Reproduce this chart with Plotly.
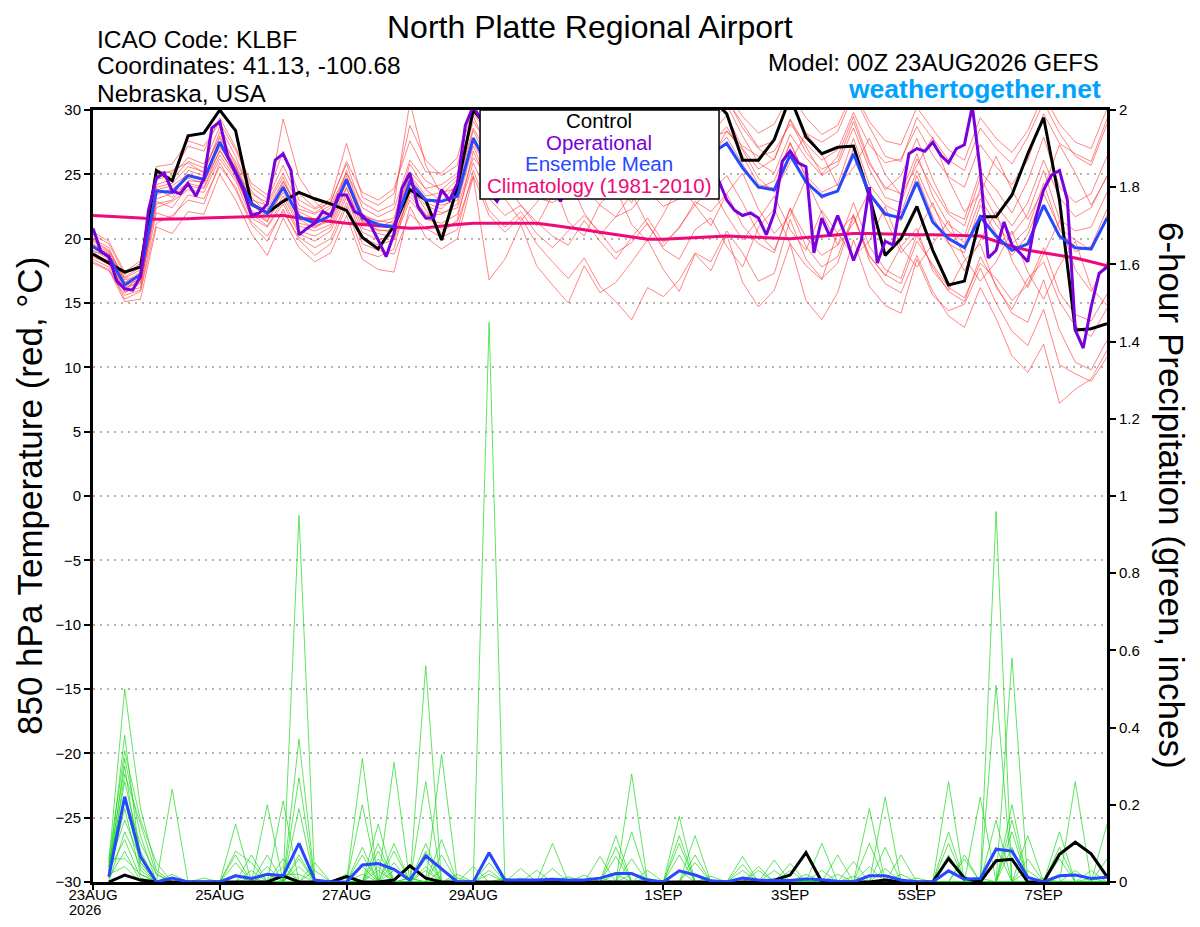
import pandas as pd
import plotly.graph_objects as go

# GEFS run 00Z 23AUG2026, 6-hourly steps out to 384 h (operational is 3-hourly)
run_start = "2026-08-23 00:00"
n_steps = 65

tick_dates = ["2026-08-23", "2026-08-25", "2026-08-27", "2026-08-29",
              "2026-09-01", "2026-09-03", "2026-09-05", "2026-09-07"]
tick_labels = ["23AUG", "25AUG", "27AUG", "29AUG", "1SEP", "3SEP", "5SEP", "7SEP"]
run_year = "2026"

temp_ticks = [30, 25, 20, 15, 10, 5, 0, -5, -10, -15, -20, -25, -30]
precip_ticks = [0, 0.2, 0.4, 0.6, 0.8, 1, 1.2, 1.4, 1.6, 1.8, 2]
precip_labels = ["0", "0.2", "0.4", "0.6", "0.8", "1", "1.2", "1.4", "1.6", "1.8", "2"]

# 850 hPa temperature (C)
control_t = [18.8, 18.1, 17.4, 17.8, 25.3, 24.5, 28.0, 28.2, 30.0, 28.4, 22.7, 22.0, 22.9,
             23.6, 23.1, 22.7, 22.2, 20.1, 19.2, 21.0, 23.8, 23.0, 19.9, 24.0, 30.0, 28.5,
             27.0, 28.2, 26.5, 27.4, 26.0, 25.2, 26.3, 27.8, 28.9, 27.5, 28.8, 30.5, 31.5,
             31.0, 29.7, 26.1, 26.1, 27.7, 31.0, 27.9, 26.6, 27.1, 27.2, 23.3, 18.7, 20.0,
             22.5, 19.1, 16.4, 16.7, 21.7, 21.7, 23.4, 26.6, 29.4, 23.0, 12.9, 13.0, 13.4]

mean_t = [19.4, 18.6, 16.4, 17.2, 23.7, 23.6, 24.9, 24.6, 27.5, 25.2, 22.7, 22.0, 24.0,
          21.7, 21.2, 21.8, 24.6, 21.6, 21.1, 20.9, 24.4, 23.0, 22.9, 23.3, 27.8, 25.5,
          24.8, 25.6, 24.9, 24.2, 24.6, 25.1, 24.4, 24.0, 24.3, 25.0, 24.7, 25.3, 26.0,
          26.6, 27.4, 25.5, 24.0, 23.8, 26.5, 24.4, 23.3, 23.7, 26.6, 23.5, 21.9, 21.6,
          24.4, 21.3, 20.0, 19.3, 21.7, 20.2, 19.1, 19.6, 22.6, 20.2, 19.3, 19.2, 21.6]

clim_t = [21.8, 21.75, 21.7, 21.6, 21.5, 21.5, 21.55, 21.6, 21.65, 21.7, 21.75, 21.8, 21.8,
          21.6, 21.45, 21.3, 21.2, 21.1, 21.0, 20.9, 20.8, 20.85, 21.0, 21.1, 21.2, 21.2,
          21.2, 21.2, 21.2, 21.05, 20.9, 20.7, 20.5, 20.3, 20.1, 19.95, 19.95, 20.0, 20.1,
          20.15, 20.2, 20.15, 20.1, 20.05, 20.0, 20.1, 20.2, 20.3, 20.4, 20.4, 20.35, 20.3,
          20.3, 20.3, 20.25, 20.2, 20.2, 19.8, 19.4, 19.1, 18.9, 18.7, 18.5, 18.2, 17.9]

oper_t = [20.8, 19.0, 18.6, 16.7, 16.1, 16.0, 17.05, 22.2, 24.7, 25.1, 23.7, 23.5, 24.3,
          23.3, 24.7, 28.6, 29.1, 26.4, 25.1, 23.8, 21.8, 22.0, 22.7, 26.1, 26.6, 25.3,
          20.3, 20.8, 21.2, 22.1, 21.8, 23.4, 23.4, 22.1, 21.8, 21.1, 19.9, 18.6, 20.4,
          23.9, 25.1, 22.5, 21.6, 21.6, 23.8, 23.0, 24.3, 28.8, 30.3, 29.2, 23.6, 22.9,
          24.0, 25.2, 26.0, 25.4, 24.8, 25.9, 24.2, 22.9, 24.1, 25.5, 26.3, 25.8, 27.0,
          26.2, 25.1, 25.7, 26.8, 27.5, 26.9, 25.8, 26.4, 27.3, 26.0, 25.2, 26.1, 27.0,
          26.2, 24.5, 23.0, 22.2, 21.8, 22.0, 21.6, 20.3, 22.0, 26.0, 26.8, 25.9, 25.6,
          18.9, 21.6, 20.2, 21.8, 20.2, 18.3, 19.9, 24.0, 18.1, 19.8, 19.5, 23.0, 26.6,
          27.0, 26.8, 27.5, 26.5, 25.9, 27.0, 27.3, 30.3, 25.3, 18.5, 19.1, 21.3, 19.5,
          18.9, 18.2, 21.6, 23.8, 24.95, 25.3, 23.0, 12.9, 11.5, 14.7, 17.3, 17.8]

members_t = [
    [19.8, 19.0, 16.9, 17.6, 24.6, 24.9, 26.3, 25.8, 28.7, 26.4, 23.5, 22.8, 25.1,
     22.6, 22.0, 22.9, 25.8, 22.4, 21.7, 22.3, 26.1, 24.5, 23.8, 24.9, 29.1, 27.2,
     26.0, 27.3, 26.1, 25.2, 26.4, 27.5, 25.8, 25.0, 26.7, 27.9, 26.1, 27.4, 28.6,
     28.1, 29.6, 27.0, 25.4, 26.2, 29.3, 27.1, 25.0, 26.4, 29.5, 26.0, 23.8, 24.9,
     27.8, 24.6, 22.1, 21.5, 25.2, 23.8, 22.0, 24.5, 27.9, 24.0, 22.8, 23.5, 26.4],
    [18.9, 18.2, 15.8, 16.5, 22.4, 22.9, 23.8, 23.6, 26.2, 24.5, 21.6, 20.9, 22.7,
     20.4, 19.8, 20.6, 23.2, 20.1, 19.5, 19.9, 23.0, 21.5, 21.2, 21.9, 25.9, 23.1,
     21.8, 22.6, 21.3, 20.2, 19.5, 21.4, 19.8, 18.4, 20.1, 21.6, 19.7, 20.8, 22.9,
     22.1, 23.5, 21.0, 19.6, 18.9, 22.4, 20.1, 18.7, 19.5, 22.8, 19.4, 17.6, 16.9,
     20.3, 17.8, 15.9, 15.1, 18.6, 16.4, 14.2, 13.5, 16.8, 12.9, 10.4, 9.8, 12.1],
    [20.3, 19.6, 17.2, 18.1, 25.3, 25.1, 27.2, 26.8, 29.4, 27.1, 24.3, 23.4, 26.8,
     23.5, 22.4, 23.1, 27.4, 23.2, 22.6, 23.5, 28.8, 26.1, 24.9, 25.7, 30.4, 28.3,
     27.1, 28.9, 27.4, 26.0, 27.2, 29.3, 28.1, 26.5, 27.0, 29.6, 28.4, 27.2, 29.9,
     29.5, 30.8, 28.9, 27.1, 27.6, 30.9, 28.2, 27.5, 28.3, 31.2, 28.7, 26.4, 26.0,
     29.4, 27.8, 26.1, 25.3, 28.6, 27.0, 25.8, 27.9, 30.6, 28.2, 26.4, 25.7, 28.9],
    [18.4, 17.8, 15.3, 15.9, 21.2, 21.8, 23.0, 22.7, 25.9, 23.8, 21.1, 19.8, 22.3,
     19.9, 18.7, 19.6, 22.5, 19.0, 18.6, 19.2, 24.1, 22.3, 20.4, 21.5, 26.8, 24.0,
     23.1, 21.4, 22.8, 24.6, 21.3, 20.2, 22.7, 23.9, 21.1, 19.8, 21.9, 24.2, 22.6,
     21.0, 23.5, 25.1, 22.3, 20.4, 21.8, 24.6, 22.0, 19.5, 21.2, 23.7, 21.6, 18.9,
     20.4, 22.8, 19.7, 17.5, 19.9, 22.1, 18.3, 16.2, 18.8, 21.4, 17.6, 15.9, 18.2],
    [19.1, 18.4, 16.1, 17.0, 23.9, 23.2, 25.3, 24.9, 27.1, 25.6, 22.9, 21.8, 23.6,
     21.2, 20.9, 21.4, 24.0, 20.8, 20.4, 20.1, 23.6, 21.9, 20.7, 21.3, 24.9, 21.8,
     20.5, 21.7, 19.6, 18.2, 16.9, 18.5, 16.3, 15.1, 13.7, 16.2, 15.5, 16.8, 18.9,
     18.2, 20.6, 18.9, 16.7, 17.3, 21.5, 18.4, 16.9, 18.1, 21.7, 18.6, 17.2, 16.5,
     19.8, 18.0, 16.2, 15.4, 18.1, 16.9, 15.2, 16.4, 19.3, 15.8, 14.1, 13.6, 15.7],
    [20.0, 19.3, 16.6, 17.4, 24.2, 24.6, 26.0, 25.5, 27.8, 26.0, 23.7, 22.5, 29.3,
     24.8, 22.9, 21.7, 25.3, 21.9, 21.3, 21.6, 25.8, 23.8, 22.9, 24.3, 28.6, 26.4,
     25.3, 26.7, 25.6, 24.3, 25.7, 26.2, 24.8, 23.6, 25.1, 26.6, 25.4, 26.9, 28.0,
     27.4, 28.7, 26.5, 24.2, 23.9, 27.5, 24.7, 23.1, 23.8, 27.0, 23.6, 22.1, 21.4,
     24.9, 21.7, 19.6, 18.9, 22.6, 20.4, 18.7, 20.3, 23.5, 20.8, 19.9, 19.1, 21.8],
    [18.6, 18.0, 16.0, 16.8, 22.9, 22.4, 24.1, 23.9, 26.5, 24.7, 22.2, 21.4, 23.3,
     21.0, 20.6, 21.1, 23.9, 21.2, 20.7, 20.5, 23.9, 22.6, 22.0, 22.4, 26.3, 24.7,
     23.6, 24.5, 23.2, 22.8, 23.5, 24.0, 22.6, 21.7, 22.3, 23.8, 22.5, 23.1, 24.4,
     23.6, 24.9, 22.8, 20.4, 19.1, 22.3, 19.4, 17.8, 18.6, 21.9, 18.3, 16.5, 15.8,
     18.7, 15.9, 14.0, 13.1, 16.2, 13.8, 10.9, 9.6, 11.8, 7.2, 8.3, 9.1, 11.3],
    [19.6, 18.9, 16.5, 17.3, 23.4, 23.9, 24.7, 24.3, 27.3, 25.1, 22.5, 22.3, 24.5,
     22.1, 21.5, 22.4, 24.9, 21.7, 21.4, 21.2, 25.0, 23.3, 23.6, 23.9, 28.4, 25.9,
     25.6, 26.4, 25.8, 25.0, 25.3, 25.9, 25.2, 24.9, 25.4, 26.1, 25.8, 26.3, 27.4,
     27.9, 28.3, 27.2, 26.4, 26.8, 28.9, 27.4, 26.1, 26.9, 29.8, 27.3, 25.9, 26.2,
     28.7, 26.5, 24.8, 24.0, 27.3, 25.6, 24.2, 26.1, 29.7, 27.4, 26.6, 26.0, 29.3],
    [18.2, 17.6, 15.1, 15.3, 20.9, 20.4, 22.1, 21.9, 25.0, 23.0, 20.4, 18.7, 21.6,
     19.3, 18.2, 18.9, 21.8, 18.4, 17.6, 17.4, 22.5, 20.1, 19.2, 20.0, 24.8, 16.8,
     18.4, 21.1, 17.9, 16.4, 15.0, 17.9, 15.8, 16.6, 18.2, 19.9, 17.6, 15.9, 18.8,
     17.5, 20.3, 16.6, 14.7, 16.0, 19.6, 15.2, 13.7, 15.8, 19.9, 16.3, 14.8, 14.2,
     18.4, 15.6, 14.4, 14.9, 17.7, 15.0, 12.8, 11.7, 14.5, 10.2, 9.5, 8.9, 10.8],
    [19.9, 19.1, 17.0, 17.8, 24.9, 25.3, 25.9, 25.1, 28.3, 25.8, 23.2, 22.0, 24.4,
     22.3, 21.9, 22.6, 25.1, 22.8, 22.1, 22.7, 30.6, 25.7, 23.4, 24.6, 29.5, 26.8,
     25.9, 27.8, 26.3, 24.7, 25.9, 27.1, 26.0, 25.5, 26.3, 27.4, 26.8, 28.1, 29.3,
     29.0, 30.4, 28.0, 25.9, 25.1, 28.1, 26.3, 24.9, 25.7, 28.6, 25.4, 23.2, 22.8,
     26.2, 23.9, 21.9, 21.0, 24.7, 22.6, 21.0, 22.8, 26.1, 23.2, 21.7, 22.4, 24.9],
    [18.7, 18.3, 15.9, 16.2, 23.1, 23.5, 24.3, 24.0, 26.9, 24.9, 21.9, 21.0, 23.0,
     20.6, 20.2, 20.9, 23.5, 20.5, 19.9, 20.3, 23.3, 21.8, 21.9, 22.7, 27.2, 24.3,
     24.2, 22.6, 21.0, 23.4, 24.8, 22.0, 20.3, 21.7, 23.5, 21.1, 19.4, 20.9, 22.6,
     24.0, 21.8, 19.9, 21.5, 23.3, 20.7, 19.1, 22.2, 20.4, 18.6, 19.8, 22.5, 19.3,
     17.8, 19.6, 21.4, 18.5, 16.7, 18.2, 20.6, 17.4, 15.3, 17.9, 19.8, 16.2, 14.8],
    [19.3, 18.5, 16.3, 16.9, 24.0, 24.3, 25.6, 25.2, 28.0, 25.5, 23.0, 22.6, 24.8,
     21.9, 21.0, 21.5, 24.4, 21.3, 20.9, 21.4, 25.2, 23.9, 24.2, 25.1, 29.7, 28.1,
     27.3, 28.6, 27.9, 26.8, 27.5, 28.4, 27.7, 27.1, 27.9, 28.8, 28.2, 29.0, 30.4,
     30.1, 30.9, 28.6, 27.0, 26.1, 29.2, 26.7, 25.4, 26.0, 29.1, 25.8, 24.0, 23.5,
     26.6, 23.3, 21.1, 20.2, 23.9, 21.6, 20.3, 21.9, 25.3, 21.5, 20.6, 20.9, 23.6],
    [18.1, 17.5, 15.6, 16.0, 22.0, 21.6, 23.4, 23.1, 25.6, 24.0, 21.3, 20.2, 22.1,
     20.1, 19.3, 20.0, 22.8, 19.6, 19.1, 18.8, 21.9, 20.8, 20.1, 20.7, 25.3, 22.2,
     20.9, 22.1, 20.4, 19.3, 20.6, 21.8, 20.5, 18.9, 19.7, 21.2, 19.2, 18.4, 20.7,
     21.6, 19.4, 17.8, 20.9, 22.3, 19.6, 17.9, 16.8, 20.5, 21.8, 18.7, 17.1, 19.4,
     20.8, 17.5, 16.0, 18.3, 19.6, 16.2, 14.5, 16.9, 18.2, 15.1, 13.2, 12.4, 14.6],
    [20.5, 19.8, 17.4, 18.3, 25.6, 25.8, 27.6, 27.2, 29.0, 26.9, 24.0, 23.1, 25.7,
     23.0, 22.3, 22.8, 26.0, 23.6, 23.0, 23.9, 27.6, 25.2, 25.1, 26.3, 30.8, 29.0,
     28.2, 29.4, 28.6, 27.5, 28.3, 29.8, 28.9, 28.0, 28.7, 30.1, 29.2, 29.9, 31.0,
     30.6, 31.4, 29.5, 28.2, 28.9, 31.3, 29.4, 28.1, 28.8, 31.5, 29.1, 27.6, 27.3,
     30.2, 28.5, 26.9, 26.1, 29.4, 27.8, 26.7, 28.4, 31.2, 28.9, 27.5, 27.0, 30.1],
    [19.0, 18.7, 16.2, 16.6, 22.7, 23.0, 24.5, 24.4, 26.8, 25.0, 22.1, 21.3, 23.9,
     21.5, 20.8, 21.8, 24.3, 21.4, 20.6, 20.7, 24.6, 22.8, 22.3, 23.6, 27.9, 25.2,
     25.7, 26.9, 24.6, 23.0, 25.2, 27.4, 26.1, 24.0, 22.8, 25.6, 27.2, 25.3, 23.9,
     26.2, 28.4, 26.9, 24.7, 23.6, 25.9, 28.2, 26.6, 24.1, 25.5, 27.8, 25.0, 23.4,
     25.7, 27.9, 24.6, 22.1, 23.5, 26.4, 23.8, 21.5, 23.9, 27.3, 25.1, 22.6, 24.8],
    [19.5, 18.8, 16.8, 17.1, 23.8, 24.1, 25.0, 24.7, 27.6, 25.3, 22.6, 21.7, 24.2,
     21.8, 21.3, 22.1, 24.7, 21.9, 21.0, 21.1, 24.8, 23.1, 22.6, 23.0, 27.5, 25.0,
     24.4, 26.0, 24.9, 23.7, 24.8, 25.6, 24.1, 23.3, 24.6, 25.8, 24.9, 25.5, 27.0,
     26.5, 27.9, 25.8, 23.9, 24.5, 27.4, 24.9, 23.6, 24.2, 27.8, 24.2, 22.6, 22.0,
     25.3, 22.5, 20.6, 19.7, 23.1, 21.1, 19.6, 20.8, 24.3, 20.7, 19.0, 19.4, 22.3],
]

# 6-hour precipitation (inches), steps 1..64
control_p = [0, .018, .005, 0, 0, 0, 0, 0,
             0, 0, 0, .016, 0, 0, 0, .014,
             0, 0, .005, .042, .01, 0, 0, 0,
             0, 0, 0, 0, 0, .002, 0, 0,
             0, 0, 0, 0, 0, 0, 0, 0,
             0, 0, .005, .018, .076, 0, 0, 0,
             0, .005, 0, 0, 0, .061, .01, 0,
             .055, .059, 0, 0, .072, .103, .073, .014]

mean_p = [.014, .221, .066, 0, .01, 0, 0, 0,
          .016, .009, .02, .016, .10, .005, 0, 0,
          .044, .048, .033, .005, .068, .033, 0, 0,
          .076, .005, .005, .005, .007, .005, .005, .01,
          .022, .022, .005, 0, .029, .018, .003, 0,
          .01, .005, .004, .004, .008, .006, .002, 0,
          .016, .016, .005, 0, 0, .029, .007, .009,
          .085, .08, .012, 0, .016, .018, .009, .012]

members_p = [
    [.05, .50, .19, .03, 0, 0, 0, 0,
     .02, 0, 0, .02, .02, 0, 0, 0,
     0, .04, 0, 0, .10, 0, 0, 0,
     0, .01, 0, 0, 0, 0, 0, 0,
     .09, 0, 0, 0, 0, .05, 0, 0,
     0, 0, 0, 0, 0, .03, 0, 0,
     0, 0, 0, 0, 0, .26, 0, 0,
     0, .09, 0, 0, 0, 0, 0, 0],
    [.03, .38, .05, 0, .02, 0, 0, 0,
     0, .01, 0, .06, 0, 0, 0, 0,
     .32, 0, .03, 0, 0, .07, 0, 0,
     0, 0, 0, 0, .10, 0, 0, 0,
     0, 0, 0, 0, .12, 0, 0, 0,
     0, 0, 0, .048, 0, 0, 0, 0,
     0, .035, 0, 0, 0, 0, 0, .01,
     0, 0, 0, 0, .13, 0, 0, 0],
    [.06, .34, .16, .05, 0, 0, 0, 0,
     .15, 0, 0, 0, .19, 0, 0, 0,
     0, .08, 0, .01, 0, 0, 0, 0,
     .07, 0, 0, 0, 0, 0, 0, 0,
     0, .13, 0, 0, 0, 0, 0, 0,
     .03, 0, 0, 0, 0, 0, 0, .053,
     0, 0, 0, 0, 0, 0, .07, 0,
     0, 0, .03, 0, 0, 0, 0, 0],
    [.02, .32, .12, 0, 0, 0, 0, 0,
     0, .07, 0, 0, 0, .05, 0, 0,
     .04, 0, 0, 0, .26, 0, 0, 0,
     0, 0, .01, 0, 0, 0, 0, 0,
     .02, 0, 0, 0, 0, .12, 0, 0,
     0, 0, 0, 0, 0, 0, 0, 0,
     .10, 0, 0, 0, 0, 0, 0, 0,
     .16, 0, 0, 0, 0, .03, 0, 0],
    [.04, .30, .03, 0, 0, 0, .01, 0,
     0, 0, .04, 0, .95, 0, 0, 0,
     0, 0, .08, 0, 0, 0, .02, 0,
     0, 0, 0, 0, 0, 0, .018, 0,
     0, 0, 0, 0, .03, 0, 0, 0,
     0, 0, 0, 0, 0, .10, 0, 0,
     0, 0, 0, 0, 0, .10, 0, 0,
     0, 0, 0, .01, 0, 0, 0, 0],
    [.01, .28, .15, .02, 0, 0, 0, 0,
     .08, .05, 0, 0, .04, 0, 0, 0,
     .20, 0, 0, 0, .04, 0, 0, 0,
     1.45, 0, 0, 0, 0, 0, 0, 0,
     0, 0, .03, 0, 0, 0, 0, 0,
     0, 0, .03, 0, 0, 0, 0, 0,
     0, 0, 0, .01, 0, 0, 0, 0,
     0, .20, 0, 0, 0, 0, 0, .06],
    [.03, .26, .08, 0, .24, 0, 0, 0,
     0, 0, 0, .04, 0, 0, 0, 0,
     0, .15, 0, 0, .08, 0, 0, 0,
     0, 0, 0, 0, 0, .014, 0, 0,
     0, .02, 0, 0, 0, 0, 0, 0,
     .066, 0, 0, 0, 0, 0, 0, 0,
     0, .09, 0, 0, 0, 0, 0, 0,
     .09, 0, 0, 0, 0, .26, 0, 0],
    [.05, .22, .10, .02, 0, 0, 0, 0,
     0, 0, .20, 0, 0, 0, 0, .02,
     0, 0, .05, 0, 0, 0, 0, 0,
     .03, 0, 0, 0, 0, 0, 0, 0,
     .066, 0, 0, 0, 0, 0, .015, 0,
     0, 0, 0, 0, 0, 0, .07, 0,
     0, 0, 0, 0, 0, 0, 0, .22,
     0, 0, 0, 0, .06, 0, 0, 0],
    [.02, .19, .02, 0, 0, 0, 0, 0,
     .07, 0, 0, 0, .37, 0, 0, 0,
     .02, 0, 0, .01, 0, .33, 0, 0,
     0, 0, 0, 0, 0, 0, 0, .01,
     0, 0, 0, 0, .10, 0, 0, 0,
     0, 0, 0, 0, .01, 0, 0, 0,
     .19, 0, 0, 0, 0, 0, 0, 0,
     0, .13, 0, 0, 0, 0, 0, 0],
    [.04, .16, .06, 0, 0, 0, 0, 0,
     0, .03, 0, 0, .06, 0, 0, 0,
     0, 0, .31, 0, 0, 0, .01, 0,
     0, 0, .035, 0, 0, 0, 0, 0,
     0, 0, .01, 0, 0, 0, 0, 0,
     0, .04, 0, 0, 0, 0, 0, 0,
     0, 0, .02, 0, 0, 0, 0, 0,
     .51, 0, 0, 0, 0, 0, .03, 0],
    [0, .13, .04, 0, 0, 0, 0, 0,
     0, 0, .07, 0, 0, .03, 0, 0,
     .09, 0, 0, 0, .03, 0, 0, 0,
     .05, 0, 0, 0, 0, 0, 0, 0,
     0, .28, 0, 0, 0, 0, 0, 0,
     0, 0, .057, 0, 0, 0, 0, 0,
     0, 0, 0, 0, 0, .13, 0, 0,
     0, 0, .06, 0, 0, 0, 0, .15],
    [.03, .11, .01, 0, 0, 0, 0, 0,
     .05, 0, 0, 0, .27, 0, 0, 0,
     0, .03, 0, 0, .56, 0, 0, 0,
     0, 0, 0, 0, 0, 0, 0, .066,
     0, 0, 0, 0, 0, .07, 0, 0,
     0, 0, 0, 0, 0, 0, .02, 0,
     0, 0, 0, 0, 0, .07, 0, 0,
     0, 0, .12, 0, 0, 0, 0, 0],
    [.01, .08, 0, 0, 0, 0, 0, 0,
     0, 0, .02, 0, 0, 0, 0, 0,
     0, .10, 0, 0, 0, .03, 0, 0,
     0, 0, 0, .03, 0, 0, 0, 0,
     0, 0, 0, 0, .17, 0, 0, 0,
     0, 0, 0, .03, 0, 0, 0, 0,
     0, .22, 0, 0, 0, 0, 0, 0,
     0, .16, 0, 0, 0, 0, 0, 0],
    [.06, .06, .02, 0, 0, 0, 0, 0,
     0, 0, 0, .21, 0, 0, 0, 0,
     .07, 0, 0, 0, .06, 0, 0, 0,
     .02, 0, 0, 0, 0, 0, 0, 0,
     0, .06, 0, 0, 0, 0, 0, 0,
     .045, 0, 0, 0, 0, 0, 0, .015,
     0, 0, 0, 0, 0, 0, .06, 0,
     0, 0, 0, 0, .09, 0, 0, 0],
    [.02, .04, 0, 0, 0, 0, 0, 0,
     0, 0, 0, 0, 0, 0, 0, .01,
     0, 0, .10, 0, 0, 0, 0, .04,
     0, 0, 0, 0, 0, 0, 0, 0,
     .12, 0, 0, 0, 0, 0, 0, 0,
     0, .03, 0, 0, 0, 0, 0, 0,
     .04, 0, 0, 0, 0, 0, 0, 0,
     .96, 0, 0, 0, 0, 0, 0, 0],
    [.04, .21, .05, 0, 0, 0, 0, 0,
     0, 0, 0, 0, .07, 0, 0, 0,
     0, .06, 0, 0, 0, .11, 0, 0,
     0, 0, 0, 0, .035, 0, 0, 0,
     0, 0, 0, 0, .07, 0, 0, 0,
     0, 0, 0, 0, .02, 0, 0, 0,
     0, 0, .07, 0, 0, 0, 0, 0,
     0, .58, 0, 0, 0, 0, .01, 0],
]

for name, seq, n in [("control_t", control_t, 65), ("mean_t", mean_t, 65), ("clim_t", clim_t, 65),
                     ("oper_t", oper_t, 129), ("control_p", control_p, 64), ("mean_p", mean_p, 64)]:
    if len(seq) != n:
        raise ValueError(f"{name} has {len(seq)} values")
for k, m in enumerate(members_t):
    if len(m) != 65:
        raise ValueError(f"members_t[{k}] has {len(m)} values")
for k, m in enumerate(members_p):
    if len(m) != 64:
        raise ValueError(f"members_p[{k}] has {len(m)} values")

times = pd.date_range(run_start, periods=n_steps, freq="6h")
times_3h = pd.date_range(run_start, periods=2 * n_steps - 1, freq="3h")
times_p = times[1:]

fig = go.Figure()

for m in members_t:
    fig.add_trace(go.Scatter(x=times, y=m, mode="lines", hoverinfo="skip",
                             line=dict(color="rgba(255,50,50,0.75)", width=0.8)))

fig.add_trace(go.Scatter(x=times, y=clim_t, mode="lines", line=dict(color="#ee0a78", width=3)))
fig.add_trace(go.Scatter(x=times, y=control_t, mode="lines", line=dict(color="black", width=3)))
fig.add_trace(go.Scatter(x=times, y=mean_t, mode="lines", line=dict(color="#2648ff", width=3)))
fig.add_trace(go.Scatter(x=times_3h, y=oper_t, mode="lines", line=dict(color="#7a00dc", width=3)))

for m in members_p:
    fig.add_trace(go.Scatter(x=times_p, y=m, mode="lines", yaxis="y2", hoverinfo="skip",
                             line=dict(color="rgba(20,215,20,0.85)", width=0.8)))
fig.add_trace(go.Scatter(x=times_p, y=control_p, mode="lines", yaxis="y2",
                         line=dict(color="black", width=3)))
fig.add_trace(go.Scatter(x=times_p, y=mean_p, mode="lines", yaxis="y2",
                         line=dict(color="#2648ff", width=3)))

axis_font = dict(family="Liberation Sans, Arial, sans-serif", size=15, color="black")

# the page body adds an 8 px margin, so the figure is sized to fit inside the window
fig.update_layout(
    width=1184, height=911,
    margin=dict(l=85, r=85, t=102, b=37),
    paper_bgcolor="white", plot_bgcolor="white",
    showlegend=False,
    font=dict(family="Liberation Sans, Arial, sans-serif", color="black"),
    xaxis=dict(range=[times[0], times[-1]], tickvals=tick_dates, ticktext=tick_labels,
               ticks="outside", ticklen=5, tickwidth=1.5, tickcolor="black",
               showline=True, linewidth=3, linecolor="black", mirror=True,
               showgrid=False, zeroline=False, automargin=False, ticklabelstandoff=-8,
               tickfont=dict(family="Liberation Sans, Arial, sans-serif", size=15, color="black")),
    yaxis=dict(range=[-30, 30], tickvals=temp_ticks, ticks="outside", ticklen=6,
               tickwidth=1.5, tickcolor="black", showline=True, linewidth=3,
               linecolor="black", showgrid=True, gridcolor="#b4b4b4", gridwidth=1.5,
               griddash="2px,5px", zeroline=False, automargin=False, tickfont=axis_font),
    yaxis2=dict(range=[0, 2], overlaying="y", side="right", tickvals=precip_ticks,
                ticktext=precip_labels, ticks="outside", ticklen=6, tickwidth=1.5,
                tickcolor="black", showline=True, linewidth=3, linecolor="black",
                showgrid=False, zeroline=False, automargin=False, tickfont=axis_font),
)

# year under the first date label
fig.add_annotation(text=run_year, x=-0.0079, y=-0.0479, xref="paper", yref="paper", showarrow=False,
                   xanchor="center", yanchor="bottom", borderpad=0,
                   font=dict(size=14.5, color="black"))

# legend box drawn over the lines
fig.add_shape(type="rect", xref="paper", yref="paper", x0=0.3817, x1=0.6174, y0=0.8847, y1=1.0,
              fillcolor="white", line=dict(color="black", width=1.5), layer="above")

legend_rows = [("Control", "black", 0.9858), ("Operational", "#7a00dc", 0.9585),
               ("Ensemble Mean", "#2648ff", 0.9313), ("Climatology (1981-2010)", "#ee0a78", 0.9028)]
for text, color, y in legend_rows:
    fig.add_annotation(text=text, x=0.4995, y=y, xref="paper", yref="paper", showarrow=False,
                       xanchor="center", yanchor="middle", font=dict(size=20.5, color=color))

fig.add_annotation(text="North Platte Regional Airport", x=0.4901, y=1.1321, xref="paper", yref="paper",
                   showarrow=False, xanchor="center", yanchor="top", borderpad=0,
                   font=dict(size=32, color="black"))

header = [
    ("ICAO Code: KLBF", 0.0020, 1.0907, "left", 24.5, "black"),
    ("Coordinates: 41.13, -100.68", 0.0020, 1.0570, "left", 24.5, "black"),
    ("Nebraska, USA", 0.0020, 1.0220, "left", 24.5, "black"),
    ("Model: 00Z 23AUG2026 GEFS", 0.9941, 1.0609, "right", 24, "black"),
    ("<b>weathertogether.net</b>", 0.9961, 1.0272, "right", 26.5, "#00a2ff"),
]
for text, x, y, anchor, size, color in header:
    fig.add_annotation(text=text, x=x, y=y, xref="paper", yref="paper", showarrow=False,
                       xanchor=anchor, yanchor="middle", font=dict(size=size, color=color))

fig.add_annotation(text="850 hPa Temperature (red, °C)", x=-0.0631, y=0.5, xref="paper", yref="paper",
                   showarrow=False, textangle=-90, xanchor="center", yanchor="middle",
                   font=dict(size=35))
fig.add_annotation(text="6-hour Precipitation (green, inches)", x=1.0641, y=0.5, xref="paper",
                   yref="paper", showarrow=False, textangle=90, xanchor="center", yanchor="middle",
                   font=dict(size=35))

fig.write_html("out.html")
